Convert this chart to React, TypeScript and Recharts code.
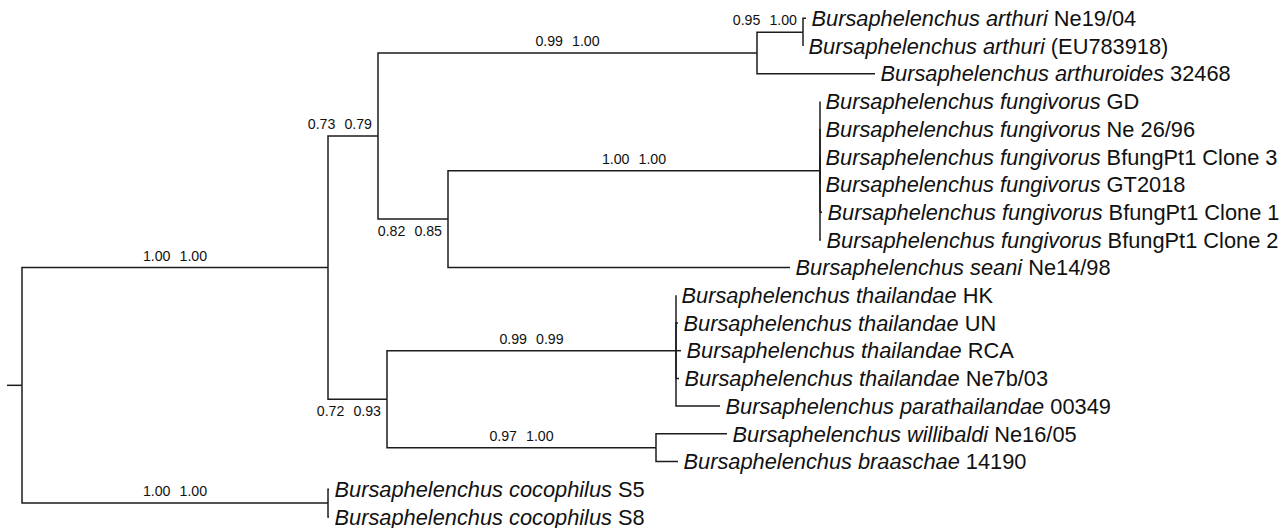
import React from 'react';
import { ComposedChart, Line, Scatter, XAxis, YAxis } from 'recharts';

// ---- Leaves (tips), top to bottom; y is the leaf row index ----
const leafTaxa = [
  'Bursaphelenchus arthuri',
  'Bursaphelenchus arthuri',
  'Bursaphelenchus arthuroides',
  'Bursaphelenchus fungivorus',
  'Bursaphelenchus fungivorus',
  'Bursaphelenchus fungivorus',
  'Bursaphelenchus fungivorus',
  'Bursaphelenchus fungivorus',
  'Bursaphelenchus fungivorus',
  'Bursaphelenchus seani',
  'Bursaphelenchus thailandae',
  'Bursaphelenchus thailandae',
  'Bursaphelenchus thailandae',
  'Bursaphelenchus thailandae',
  'Bursaphelenchus parathailandae',
  'Bursaphelenchus willibaldi',
  'Bursaphelenchus braaschae',
  'Bursaphelenchus cocophilus',
  'Bursaphelenchus cocophilus',
];
const leafStrains = [
  'Ne19/04',
  '(EU783918)',
  '32468',
  'GD',
  'Ne 26/96',
  'BfungPt1 Clone 3',
  'GT2018',
  'BfungPt1 Clone 1',
  'BfungPt1 Clone 2',
  'Ne14/98',
  'HK',
  'UN',
  'RCA',
  'Ne7b/03',
  '00349',
  'Ne16/05',
  '14190',
  'S5',
  'S8',
];
const leafTipX = [806, 803, 875, 820, 820, 820, 820, 822, 821, 790, 676, 678, 681, 679, 720, 727, 678, 329, 329];
const leafRow = [0, 1, 2, 3, 4, 5, 6, 7, 8, 9, 10, 11, 12, 13, 14, 15, 16, 17, 18];
const leafParents = ['F', 'F', 'E', 'G', 'G', 'G', 'G', 'G', 'G', 'C', 'H', 'H', 'H', 'H', 'H', 'I', 'I', 'J', 'J'];

// ---- Internal nodes ----
const nodeIds = ['R', 'A', 'B', 'E', 'F', 'C', 'G', 'D', 'H', 'I', 'J'];
const nodeX = [22, 328, 378, 757, 803, 448, 820, 387, 676, 656, 328];
const nodeRow = [13.25, 9, 4.25, 1.25, 0.5, 7.25, 5.5, 13.75, 12, 15.5, 17.5];
const nodeParents = [null, 'R', 'A', 'B', 'E', 'B', 'C', 'A', 'D', 'D', 'R'];
const nodeSupport = [
  null,
  ['1.00', '1.00'],
  ['0.73', '0.79'],
  ['0.99', '1.00'],
  ['0.95', '1.00'],
  ['0.82', '0.85'],
  ['1.00', '1.00'],
  ['0.72', '0.93'],
  ['0.99', '0.99'],
  ['0.97', '1.00'],
  ['1.00', '1.00'],
];
const rootStubStartX = 7;
const supportBelowNodes = ['C', 'D'];

// ---- Build structures for the library ----
type Pt = { x: number; y: number };
const nodeIndex: Record<string, number> = {};
nodeIds.forEach((id, i) => (nodeIndex[id] = i));
const parentPt = (id: string): Pt => ({ x: nodeX[nodeIndex[id]], y: nodeRow[nodeIndex[id]] });

const edges: Pt[][] = [];
// root stub
edges.push([
  { x: rootStubStartX, y: nodeRow[0] },
  { x: nodeX[0], y: nodeRow[0] },
]);
nodeIds.forEach((id, i) => {
  const p = nodeParents[i];
  if (!p) return;
  const pp = parentPt(p);
  edges.push([
    { x: pp.x, y: pp.y },
    { x: pp.x, y: nodeRow[i] },
    { x: nodeX[i], y: nodeRow[i] },
  ]);
});
leafTaxa.forEach((_, i) => {
  const pp = parentPt(leafParents[i]);
  edges.push([
    { x: pp.x, y: pp.y },
    { x: pp.x, y: leafRow[i] },
    { x: leafTipX[i], y: leafRow[i] },
  ]);
});

const leafData = leafTaxa.map((t, i) => ({ x: leafTipX[i], y: leafRow[i], taxon: t, strain: leafStrains[i] }));

const supportData = nodeIds
  .map((id, i) => {
    const p = nodeParents[i];
    const s = nodeSupport[i];
    if (!p || !s) return null;
    const px = nodeX[nodeIndex[p]];
    const len = nodeX[i] - px;
    const long = len >= 100;
    return {
      x: long ? (px + nodeX[i]) / 2 : nodeX[i] - 6,
      y: nodeRow[i],
      a: s[0],
      b: s[1],
      anchor: long ? 'middle' : 'end',
      below: supportBelowNodes.includes(id),
    };
  })
  .filter(Boolean) as any[];

const W = 1288;
const H = 528;
const FONT = '"Liberation Sans", Arial, Helvetica, sans-serif';
const LINE = '#1c1c1c';

const LeafLabel = (props: any) => {
  const { cx, cy, payload } = props;
  if (cx == null || cy == null) return null;
  return (
    <text x={cx + 5.5} y={cy + 7.8} fontSize={21.8} fontFamily={FONT} fill="#111">
      <tspan fontStyle="italic">{payload.taxon}</tspan>
      <tspan>{' ' + payload.strain}</tspan>
    </text>
  );
};

const SupportLabel = (props: any) => {
  const { cx, cy, payload } = props;
  if (cx == null || cy == null) return null;
  return (
    <text
      x={cx}
      y={payload.below ? cy + 17 : cy - 6.8}
      fontSize={14.2}
      fontFamily={FONT}
      fill="#111"
      textAnchor={payload.anchor}
    >
      <tspan>{payload.a}</tspan>
      <tspan dx={9}>{payload.b}</tspan>
    </text>
  );
};

export default function App() {
  return (
    <div style={{ width: W, height: H, background: '#fff' }}>
      <style>{'body{margin:0;background:#fff}'}</style>
      <ComposedChart width={W} height={H} margin={{ top: 0, right: 0, bottom: 0, left: 0 }}>
        <XAxis type="number" dataKey="x" domain={[0, W]} hide allowDataOverflow />
        <YAxis
          type="number"
          dataKey="y"
          domain={[-0.6606, 18.401]}
          reversed
          hide
          allowDataOverflow
        />
        {edges.map((e, i) => (
          <Line
            key={'e' + i}
            data={e}
            dataKey="y"
            type="linear"
            stroke={LINE}
            strokeWidth={1.5}
            strokeLinejoin="miter"
            dot={false}
            activeDot={false}
            isAnimationActive={false}
            legendType="none"
          />
        ))}
        <Scatter data={leafData} dataKey="y" shape={LeafLabel} isAnimationActive={false} legendType="none" />
        <Scatter data={supportData} dataKey="y" shape={SupportLabel} isAnimationActive={false} legendType="none" />
      </ComposedChart>
    </div>
  );
}
